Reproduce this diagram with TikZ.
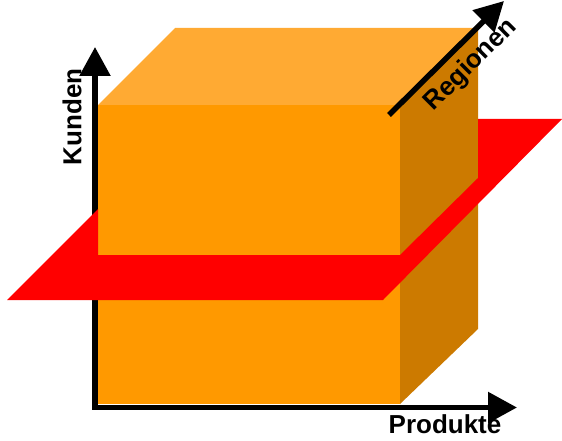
\documentclass[tikz,border=0pt]{standalone}
\usepackage{fontspec}
\setmainfont{Liberation Sans}
\usetikzlibrary{arrows.meta}
\definecolor{cubefront}{HTML}{FF9900}
\definecolor{cubetop}{HTML}{FFAA33}
\definecolor{cubeside}{HTML}{CC7A00}
\definecolor{slice}{HTML}{FF0000}

\begin{document}
\begin{tikzpicture}[x=1pt, y=1pt,
  axisline/.style={line width=5.5pt, black, line join=miter},
  axislabel/.style={font=\fontsize{26}{30}\selectfont\bfseries, inner sep=0pt}]
  \useasboundingbox (0,0) rectangle (562,440);

  % Cube
  \fill[cubefront] (98,36) rectangle (400,335);
  \fill[cubetop] (98,335) -- (175,412) -- (478,412) -- (400,335) -- cycle;
  \fill[cubeside] (400,335) -- (478,412) -- (478,111) -- (400,36) -- cycle;

  % Axes
  \coordinate (origin) at (95,32.5);
  \coordinate (kundenTip) at (95,393);
  \coordinate (produkteTip) at (517,32.5);
  \draw[axisline, {Triangle[length=29pt, width=30pt]}-{Triangle[length=29pt, width=30pt]}]
    (kundenTip) -- (origin) -- (produkteTip);

  % Slice
  \fill[slice] (7,140) -- (383,140) -- (562,321) -- (478,321) -- (478,262)
    -- (400,185) -- (98,185) -- (98,231) -- cycle;

  % Third axis
  \coordinate (regionenStart) at (389,325);
  \coordinate (regionenTip) at (504,439);
  \draw[axisline, -{Triangle[length=29pt, width=30pt]}] (regionenStart) -- (regionenTip);

  % Labels
  \node[axislabel, rotate=90] (kunden) at (72,323) {Kunden};
  \node[axislabel] (produkte) at (445,15.5) {Produkte};
  \node[axislabel, rotate=45] (regionen) at (471,375) {Regionen};
\end{tikzpicture}
\end{document}
